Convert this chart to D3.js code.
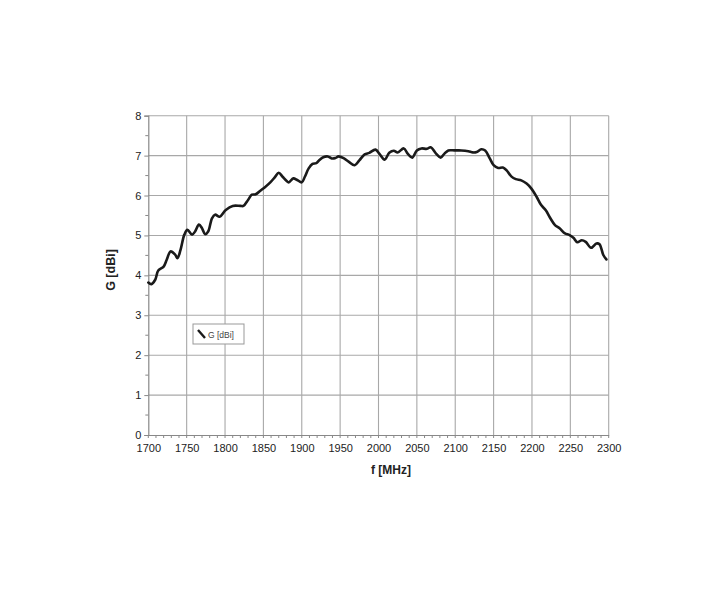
<!DOCTYPE html>
<html>
<head>
<meta charset="utf-8">
<script src="https://cdn.jsdelivr.net/npm/d3@7"></script>
<style>
html,body{margin:0;padding:0;background:#fff;}
svg{display:block;}
text{font-family:Arial,"Liberation Sans",sans-serif;fill:#222;}
</style>
</head>
<body>
<div id="chart"></div>
<script>
const freq = [1700,1704,1709,1713,1720,1724,1729,1735,1738,1742,1747,1751,1757,1761,1766,1770,1774,1778,1783,1787,1793,1801,1810,1820,1824,1830,1835,1840,1846,1852,1859,1865,1870,1875,1880,1883,1889,1894,1900,1904,1909,1914,1919,1923,1928,1934,1939,1944,1948,1955,1961,1969,1975,1982,1988,1996,2001,2008,2014,2020,2025,2033,2038,2044,2050,2056,2063,2068,2075,2081,2086,2091,2099,2108,2117,2123,2128,2134,2139,2145,2150,2156,2162,2167,2173,2179,2186,2193,2199,2206,2212,2218,2224,2230,2236,2243,2249,2254,2259,2265,2270,2277,2284,2288,2293,2297];
const gain = [3.82,3.78,3.89,4.12,4.22,4.39,4.60,4.52,4.43,4.64,5.02,5.14,5.02,5.10,5.27,5.18,5.03,5.10,5.43,5.52,5.47,5.64,5.74,5.74,5.74,5.89,6.02,6.03,6.12,6.21,6.33,6.46,6.57,6.47,6.37,6.33,6.43,6.39,6.33,6.47,6.68,6.79,6.81,6.89,6.96,6.98,6.93,6.94,6.98,6.93,6.85,6.76,6.88,7.03,7.07,7.15,7.05,6.90,7.07,7.12,7.08,7.18,7.05,6.95,7.13,7.18,7.17,7.21,7.05,6.95,7.05,7.13,7.13,7.13,7.11,7.08,7.09,7.16,7.13,6.93,6.76,6.69,6.70,6.63,6.48,6.41,6.38,6.30,6.18,5.97,5.76,5.63,5.43,5.26,5.18,5.05,5.01,4.94,4.83,4.88,4.84,4.69,4.80,4.78,4.51,4.40];
const xTicks = [1700,1750,1800,1850,1900,1950,2000,2050,2100,2150,2200,2250,2300];
const yTicks = [0,1,2,3,4,5,6,7,8];
const xLabel = "f [MHz]";
const yLabel = "G [dBi]";
const seriesName = "G [dBi]";

const W = 710, H = 601;
const svg = d3.select("#chart").append("svg").attr("width", W).attr("height", H);

const x = d3.scaleLinear().domain([1700, 2300]).range([148.3, 608.7]);
const y = d3.scaleLinear().domain([0, 8]).range([435, 115.7]);

// grid
const g = svg.append("g");
g.selectAll(".vg").data(xTicks.slice(1)).enter().append("line")
  .attr("x1", d => x(d)).attr("x2", d => x(d))
  .attr("y1", y(0)).attr("y2", y(8))
  .attr("stroke", "#a8a8a8").attr("stroke-width", 1.1);
g.selectAll(".hg").data(yTicks.slice(1)).enter().append("line")
  .attr("x1", x(1700)).attr("x2", x(2300))
  .attr("y1", d => y(d)).attr("y2", d => y(d))
  .attr("stroke", "#a8a8a8").attr("stroke-width", 1.1);

// axes
const xAxis = d3.axisBottom(x).tickValues(xTicks).tickSize(0).tickPadding(9).tickFormat(d3.format("d"));
const xa = svg.append("g").attr("transform", `translate(0,${y(0)})`).call(xAxis);
xa.select(".domain").attr("stroke", "#888").attr("stroke-width", 1.2);
xa.selectAll("text").attr("font-size", 11).style("fill", "#222");

const xMinor = d3.range(1700, 2301, 10);
svg.append("g").selectAll("line").data(xMinor).enter().append("line")
  .attr("x1", d => x(d)).attr("x2", d => x(d))
  .attr("y1", y(0)).attr("y2", y(0) + 3)
  .attr("stroke", "#888").attr("stroke-width", 1);

const yAxis = d3.axisLeft(y).tickValues(yTicks).tickSize(4).tickPadding(3).tickFormat(d3.format("d"));
const ya = svg.append("g").attr("transform", `translate(${x(1700)},0)`).call(yAxis);
ya.select(".domain").attr("stroke", "#888").attr("stroke-width", 1.2);
ya.selectAll(".tick line").attr("stroke", "#888");
ya.selectAll("text").attr("font-size", 11).style("fill", "#222");

const yMinor = d3.range(0.5, 8, 1);
svg.append("g").selectAll("line").data(yMinor).enter().append("line")
  .attr("x1", x(1700) - 3).attr("x2", x(1700))
  .attr("y1", d => y(d)).attr("y2", d => y(d))
  .attr("stroke", "#888").attr("stroke-width", 1);

// curve
const pts = freq.map((f, i) => [f, gain[i]]);
const line = d3.line().x(d => x(d[0])).y(d => y(d[1])).curve(d3.curveCatmullRom.alpha(0.5));
svg.append("path").datum(pts).attr("d", line)
  .attr("fill", "none").attr("stroke", "#1a1a1a").attr("stroke-width", 2.6)
  .attr("stroke-linejoin", "round").attr("stroke-linecap", "round");

// axis labels
svg.append("text").attr("x", 391).attr("y", 474).attr("text-anchor", "middle")
  .attr("font-size", 12).attr("font-weight", "bold").text(xLabel);
svg.append("text").attr("transform", "translate(115,270) rotate(-90)").attr("text-anchor", "middle")
  .attr("font-size", 12.5).attr("font-weight", "bold").text(yLabel);

// legend
const lg = svg.append("g").attr("transform", "translate(193,324)");
lg.append("rect").attr("width", 51).attr("height", 20).attr("fill", "#fff")
  .attr("stroke", "#999").attr("stroke-width", 1);
lg.append("line").attr("x1", 5).attr("y1", 6).attr("x2", 12).attr("y2", 14)
  .attr("stroke", "#1a1a1a").attr("stroke-width", 2.4);
lg.append("text").attr("x", 15).attr("y", 14).attr("font-size", 8.5).style("fill", "#444").text(seriesName);
</script>
</body>
</html>
